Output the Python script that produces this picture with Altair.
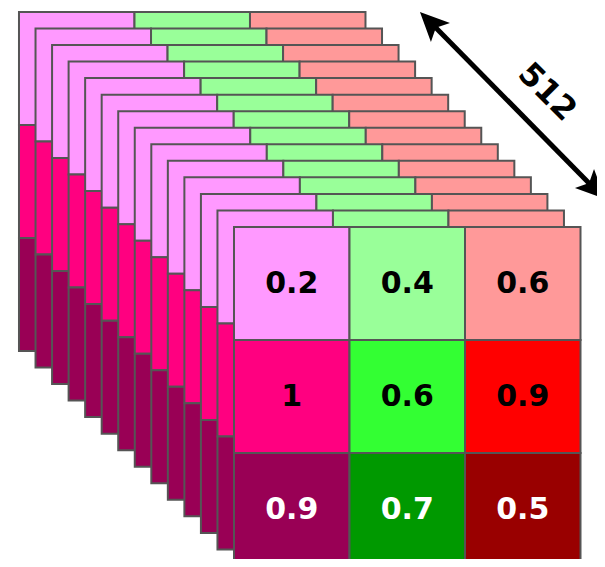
import altair as alt
import pandas as pd

# ---- data ----
cell_values = [["0.2", "0.4", "0.6"],
               ["1", "0.6", "0.9"],
               ["0.9", "0.7", "0.5"]]
cell_colors = [["#FF99FF", "#99FF99", "#FF9999"],
               ["#FF0080", "#33FF33", "#FF0000"],
               ["#990055", "#009900", "#990000"]]
text_colors = ["#000000", "#000000", "#FFFFFF"]
n_layers = 14
depth_label = "512"

# geometry in cell units
step_x = 0.1432
step_y = 0.1464

rows = []
for d in range(n_layers - 1, -1, -1):  # back to front
    for r in range(3):
        for c in range(3):
            rows.append(dict(x0=c - d * step_x, x1=c + 1 - d * step_x,
                             y0=r - d * step_y, y1=r + 1 - d * step_y,
                             fill=cell_colors[r][c], layer=d))
cells = pd.DataFrame(rows)

texts = pd.DataFrame([dict(x=c + 0.5, y=r + 0.5, label=cell_values[r][c], tcol=text_colors[r])
                      for r in range(3) for c in range(3)])

# arrow (annotation) in cell units
tip_a = (1.610, -1.903)
tip_b = (3.212, -0.248)
shrink = 0.08
arrow_line = pd.DataFrame([dict(x=tip_a[0] + shrink, y=tip_a[1] + shrink,
                                x2=tip_b[0] - shrink, y2=tip_b[1] - shrink)])
heads = pd.DataFrame([dict(x=tip_a[0], y=tip_a[1], ang=315),
                      dict(x=tip_b[0], y=tip_b[1], ang=135)])
label = pd.DataFrame([dict(x=2.712, y=-1.195, t=depth_label)])

W, H = 589, 551
xs = alt.Scale(domain=[-226 / 115.5, (W - 226) / 115.5], nice=False, zero=False)
ys = alt.Scale(domain=[-219 / 113, (H - 219) / 113], nice=False, zero=False, reverse=True)

rects = alt.Chart(cells).mark_rect(stroke="#555555", strokeWidth=2).encode(
    x=alt.X("x0:Q", scale=xs, axis=None), x2="x1",
    y=alt.Y("y0:Q", scale=ys, axis=None), y2="y1",
    color=alt.Color("fill:N", scale=None),
)

txt = alt.Chart(texts).mark_text(fontSize=30, fontWeight="bold", font="DejaVu Sans",
                                 baseline="middle", align="center").encode(
    x=alt.X("x:Q", scale=xs), y=alt.Y("y:Q", scale=ys),
    text="label:N", color=alt.Color("tcol:N", scale=None),
)

line = alt.Chart(arrow_line).mark_rule(strokeWidth=5, color="black").encode(
    x=alt.X("x:Q", scale=xs), x2="x2", y=alt.Y("y:Q", scale=ys), y2="y2",
)

head_shape = "M0,0 L0.93,2 L0,1.55 L-0.93,2 Z"
hd = alt.Chart(heads).mark_point(shape=head_shape, filled=True, size=841, opacity=1,
                                 color="black", strokeWidth=0).encode(
    x=alt.X("x:Q", scale=xs), y=alt.Y("y:Q", scale=ys), angle=alt.Angle("ang:Q", scale=None),
)

lbl = alt.Chart(label).mark_text(fontSize=32, fontWeight="bold", font="DejaVu Sans", angle=45,
                                 baseline="middle", align="center", color="black").encode(
    x=alt.X("x:Q", scale=xs), y=alt.Y("y:Q", scale=ys), text="t:N",
)

chart = alt.layer(rects, txt, line, hd, lbl).properties(
    width=W, height=H, padding=0, autosize=alt.AutoSizeParams(type="none")
).configure_view(stroke=None)

chart.save("out.html", embed_options={"renderer": "svg", "actions": False})
